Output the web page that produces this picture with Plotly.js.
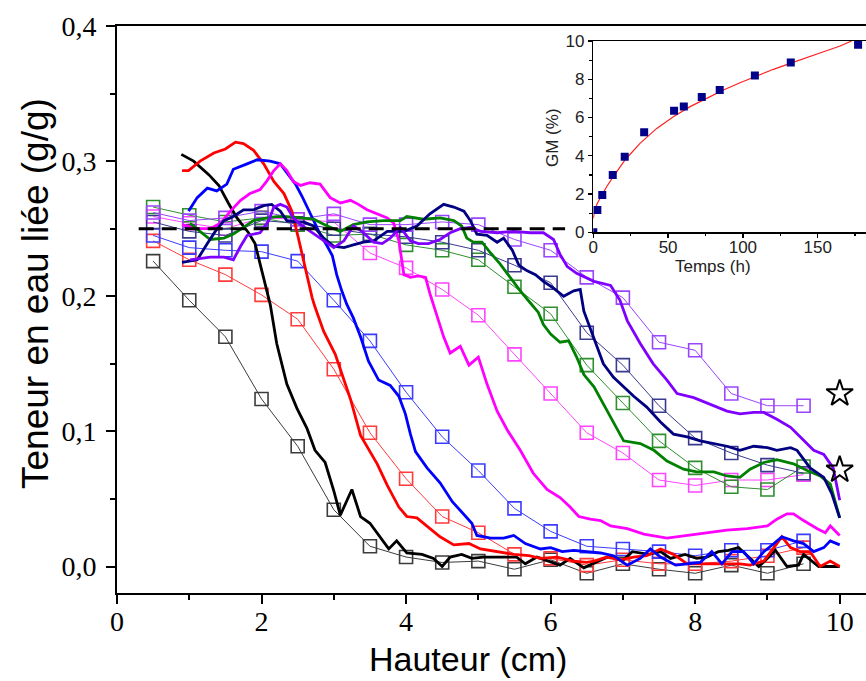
<!DOCTYPE html>
<html><head><meta charset="utf-8">
<script src="https://cdn.plot.ly/plotly-3.0.1.min.js"></script>
<style>html,body{margin:0;padding:0;background:#fff;} #chart{width:866px;height:681px;}</style>
</head><body><div id="chart"></div>
<script>
// ---- measured points (open squares), x = 0.5 ... 9.5 cm ----
const markerX = [0.5,1,1.5,2,2.5,3,3.5,4,4.5,5,5.5,6,6.5,7,7.5,8,8.5,9,9.5];
const mBlack   = [0.226,0.197,0.170,0.124,0.089,0.042,0.015,0.007,0.003,0.004,-0.002,0.005,-0.005,0.002,-0.002,-0.005,0.001,-0.005,0.002];
const mRed     = [0.241,0.227,0.216,0.201,0.183,0.146,0.099,0.065,0.037,0.025,0.009,0.006,0.001,0.005,0.002,0.002,0.004,0.008,0.014];
const mBlue    = [0.245,0.236,0.234,0.233,0.226,0.197,0.167,0.129,0.096,0.071,0.043,0.026,0.015,0.013,0.011,0.008,0.012,0.012,0.019];
const mMagenta = [0.259,0.254,0.250,0.258,0.257,0.255,0.232,0.221,0.205,0.186,0.157,0.128,0.099,0.084,0.064,0.060,0.064,0.064,0.068];
const mGreen   = [0.266,0.260,0.255,0.258,0.253,0.245,0.246,0.238,0.234,0.227,0.207,0.187,0.149,0.121,0.093,0.073,0.059,0.057,0.074];
const mNavy    = [0.255,0.248,0.245,0.256,0.254,0.250,0.246,0.244,0.240,0.234,0.223,0.210,0.173,0.149,0.119,0.095,0.084,0.075,0.069];
const mViolet  = [0.262,0.256,0.258,0.263,0.257,0.261,0.253,0.253,0.255,0.253,0.242,0.234,0.214,0.199,0.166,0.160,0.128,0.119,0.119];

// ---- continuous profiles (solid lines) ----
const blackX = [0.89,1.06,1.27,1.41,1.54,1.66,1.82,1.91,1.98,2.05,2.12,2.21,2.35,2.49,2.63,2.74,2.88,3.0,3.09,3.25,3.37,3.5,3.64,3.76,3.87,4.01,4.22,4.38,4.5,4.61,4.77,4.91,5.07,5.3,5.53,5.65,5.81,5.97,6.13,6.27,6.46,6.66,6.83,6.99,7.13,7.36,7.52,7.66,7.86,8.02,8.16,8.32,8.46,8.6,8.74,8.88,9.02,9.11,9.27,9.43,9.5,9.62,9.71,10.0];
const blackY = [0.305,0.300,0.290,0.282,0.269,0.258,0.247,0.239,0.224,0.209,0.194,0.165,0.135,0.117,0.102,0.086,0.077,0.056,0.038,0.057,0.037,0.032,0.022,0.013,0.019,0.010,0.009,0.006,0.000,0.007,0.009,0.006,0.007,0.007,0.007,0.002,0.007,0.004,0.001,0.006,-0.001,0.004,0.008,0.004,0.011,0.009,0.011,0.006,0.009,0.006,0.007,0.011,0.012,0.014,0.007,0.000,0.007,0.012,0.000,0.001,0.009,0.004,0.000,0.000];
const redX = [0.9,0.99,1.15,1.34,1.5,1.64,1.75,1.89,2.03,2.17,2.31,2.42,2.51,2.56,2.63,2.7,2.74,2.86,3.02,3.14,3.23,3.37,3.5,3.6,3.74,3.9,4.01,4.15,4.31,4.47,4.66,4.87,5.03,5.26,5.49,5.7,5.86,6.09,6.32,6.5,6.6,6.78,6.96,7.15,7.33,7.52,7.7,7.89,8.07,8.26,8.44,8.62,8.76,8.95,9.09,9.2,9.32,9.45,9.59,9.73,9.87,10.0];
const redY = [0.293,0.293,0.300,0.306,0.309,0.314,0.313,0.308,0.298,0.285,0.276,0.263,0.243,0.231,0.214,0.199,0.192,0.174,0.157,0.138,0.124,0.097,0.085,0.076,0.060,0.044,0.037,0.036,0.029,0.022,0.016,0.017,0.013,0.011,0.009,0.008,0.006,0.007,0.004,0.003,0.004,0.007,0.005,0.007,0.008,0.013,0.009,0.002,0.002,0.002,0.002,0.002,0.001,0.004,0.014,0.022,0.014,0.011,0.011,0.000,0.004,0.000];
const blueX = [0.99,1.11,1.25,1.38,1.52,1.61,1.8,1.94,2.12,2.26,2.37,2.47,2.56,2.65,2.72,2.81,2.91,2.98,3.04,3.11,3.18,3.27,3.37,3.48,3.62,3.78,3.9,3.99,4.06,4.13,4.29,4.47,4.64,4.77,4.91,4.98,5.17,5.35,5.49,5.65,5.86,6.0,6.16,6.32,6.5,6.69,6.87,7.06,7.24,7.38,7.52,7.73,7.89,8.07,8.23,8.37,8.51,8.67,8.81,8.95,9.09,9.2,9.36,9.5,9.64,9.78,9.87,10.0];
const blueY = [0.263,0.273,0.280,0.278,0.283,0.294,0.298,0.301,0.300,0.298,0.290,0.283,0.274,0.264,0.256,0.246,0.237,0.230,0.216,0.204,0.194,0.184,0.170,0.152,0.138,0.134,0.126,0.113,0.098,0.085,0.073,0.062,0.048,0.040,0.032,0.023,0.021,0.021,0.023,0.017,0.013,0.014,0.011,0.012,0.011,0.010,0.008,0.001,0.006,0.013,0.007,0.001,0.002,0.003,0.011,0.002,0.011,0.011,0.002,0.011,0.017,0.022,0.019,0.017,0.011,0.014,0.019,0.016];
const magentaX = [0.9,1.11,1.29,1.43,1.57,1.71,1.84,1.98,2.07,2.17,2.26,2.35,2.44,2.54,2.67,2.81,2.95,3.09,3.23,3.34,3.46,3.6,3.74,3.83,3.9,3.97,4.06,4.17,4.27,4.33,4.45,4.52,4.61,4.75,4.87,5.0,5.12,5.26,5.4,5.58,5.76,5.95,6.13,6.27,6.39,6.55,6.69,6.83,7.06,7.29,7.61,7.89,8.16,8.44,8.72,9.0,9.13,9.27,9.36,9.5,9.69,9.8,9.87,10.0];
const magentaY = [0.253,0.250,0.250,0.254,0.263,0.271,0.276,0.279,0.285,0.293,0.298,0.293,0.285,0.282,0.284,0.283,0.273,0.269,0.271,0.268,0.264,0.261,0.258,0.254,0.241,0.216,0.214,0.215,0.214,0.202,0.182,0.170,0.158,0.163,0.149,0.155,0.135,0.115,0.101,0.086,0.069,0.057,0.051,0.044,0.037,0.035,0.034,0.030,0.028,0.024,0.021,0.023,0.025,0.027,0.028,0.030,0.035,0.039,0.039,0.034,0.028,0.025,0.030,0.023];
const greenX = [1.01,1.15,1.29,1.48,1.61,1.75,1.89,2.08,2.21,2.35,2.54,2.72,2.91,3.09,3.27,3.46,3.69,3.92,4.01,4.24,4.47,4.66,4.77,4.84,4.93,5.05,5.17,5.3,5.44,5.58,5.72,5.83,5.9,6.0,6.13,6.25,6.36,6.46,6.6,6.73,6.87,7.01,7.24,7.43,7.61,7.84,8.02,8.26,8.44,8.62,8.76,8.95,9.13,9.36,9.55,9.73,9.87,10.0];
const greenY = [0.254,0.248,0.242,0.243,0.246,0.251,0.256,0.258,0.259,0.259,0.258,0.257,0.252,0.248,0.253,0.255,0.256,0.256,0.259,0.257,0.258,0.256,0.252,0.243,0.240,0.240,0.232,0.224,0.214,0.204,0.195,0.188,0.179,0.172,0.166,0.167,0.155,0.142,0.133,0.120,0.106,0.093,0.091,0.086,0.078,0.072,0.070,0.070,0.067,0.066,0.072,0.077,0.079,0.076,0.071,0.067,0.061,0.036];
const navyX = [0.9,1.11,1.25,1.36,1.48,1.61,1.75,1.89,2.03,2.14,2.26,2.35,2.47,2.58,2.72,2.86,3.0,3.14,3.27,3.41,3.55,3.74,3.97,4.15,4.33,4.52,4.66,4.8,4.89,4.98,5.12,5.26,5.35,5.47,5.56,5.67,5.79,5.9,6.04,6.18,6.32,6.41,6.46,6.55,6.64,6.73,6.87,7.01,7.15,7.33,7.52,7.7,7.89,8.07,8.26,8.44,8.62,8.81,9.0,9.13,9.32,9.41,9.59,9.78,9.89,10.0];
const navyY = [0.225,0.227,0.239,0.248,0.256,0.259,0.264,0.264,0.267,0.268,0.263,0.256,0.255,0.255,0.252,0.243,0.237,0.236,0.238,0.240,0.241,0.248,0.248,0.252,0.261,0.268,0.266,0.263,0.256,0.246,0.245,0.240,0.243,0.234,0.223,0.219,0.216,0.211,0.206,0.200,0.204,0.205,0.189,0.176,0.163,0.150,0.140,0.133,0.126,0.118,0.107,0.098,0.096,0.093,0.091,0.089,0.086,0.089,0.088,0.086,0.088,0.086,0.073,0.066,0.054,0.036];
const violetX = [1.01,1.29,1.48,1.61,1.71,1.8,1.98,2.1,2.17,2.26,2.35,2.44,2.54,2.67,2.81,3.0,3.14,3.27,3.39,3.55,3.67,3.78,3.92,4.06,4.17,4.31,4.47,4.61,4.75,4.89,5.03,5.26,5.49,5.72,5.9,6.04,6.13,6.23,6.36,6.6,6.83,6.96,7.06,7.24,7.42,7.61,7.75,7.98,8.21,8.44,8.62,8.81,8.95,9.13,9.32,9.5,9.64,9.78,9.91,10.0];
const violetY = [0.227,0.229,0.229,0.227,0.237,0.245,0.247,0.256,0.266,0.268,0.266,0.258,0.253,0.248,0.243,0.236,0.241,0.252,0.248,0.240,0.239,0.243,0.251,0.241,0.239,0.239,0.242,0.247,0.250,0.251,0.248,0.247,0.248,0.247,0.247,0.242,0.231,0.222,0.217,0.211,0.208,0.197,0.182,0.165,0.150,0.138,0.128,0.125,0.120,0.115,0.113,0.114,0.114,0.109,0.103,0.093,0.086,0.083,0.073,0.049];

// reference level (dashed) and star markers
const refX = [0.3, 6.2];
const refY = [0.25, 0.25];
const starX = [10, 10];
const starY = [0.128, 0.0715];

// ---- inset: GM (%) vs Temps (h) ----
const timeH = [0, 2.7, 6, 13, 21, 34, 54, 60.5, 72.5, 84.5, 108, 132, 177];
const gmPct = [0, 1.17, 1.95, 3.0, 3.95, 5.23, 6.36, 6.57, 7.07, 7.44, 8.2, 8.87, 9.8];
const fitT  = [0, 1, 2.7, 5.6, 8.9, 13.4, 21.2, 31.2, 42.4, 53.5, 64.7, 75.8, 87, 98.1, 109.3, 120.4, 131.6, 142.7, 153.9, 165, 172.7];
const fitGM = [0.73, 1.17, 1.52, 1.95, 2.38, 2.91, 3.78, 4.65, 5.43, 6.04, 6.57, 7.0, 7.44, 7.82, 8.19, 8.52, 8.83, 9.15, 9.44, 9.74, 10.0];

const xTicks = [0, 2, 4, 6, 8, 10];
const yTicks = [0, 0.1, 0.2, 0.3, 0.4];
const yTickText = ['0,0', '0,1', '0,2', '0,3', '0,4'];
const insetXTicks = [0, 50, 100, 150];
const insetYTicks = [0, 2, 4, 6, 8, 10];

const series = [
  {lx: blackX,   ly: blackY,   m: mBlack,   c: '#000000', mc: '#3c3c3c'},
  {lx: redX,     ly: redY,     m: mRed,     c: '#ff0000', mc: '#ff3b3b'},
  {lx: blueX,    ly: blueY,    m: mBlue,    c: '#0000ff', mc: '#3b3bff'},
  {lx: magentaX, ly: magentaY, m: mMagenta, c: '#ff00ff', mc: '#ff44ff'},
  {lx: greenX,   ly: greenY,   m: mGreen,   c: '#008000', mc: '#2f8f2f'},
  {lx: navyX,    ly: navyY,    m: mNavy,    c: '#000080', mc: '#3a3a8f'},
  {lx: violetX,  ly: violetY,  m: mViolet,  c: '#8000ff', mc: '#9a44ff'}
];

const traces = [];
series.forEach(s => {
  traces.push({x: markerX, y: s.m, type: 'scatter', mode: 'lines+markers', showlegend: false,
    line: {color: s.mc, width: 1},
    marker: {symbol: 'square-open', size: 13, color: s.mc, line: {width: 1.6, color: s.mc}}});
});
series.forEach(s => {
  traces.push({x: s.lx, y: s.ly, type: 'scatter', mode: 'lines', showlegend: false,
    line: {color: s.c, width: 2.8}});
});
traces.push({x: refX, y: refY, type: 'scatter', mode: 'lines', showlegend: false,
  line: {color: '#000', width: 3, dash: '15px,8px'}});
traces.push({x: starX, y: starY, type: 'scatter', mode: 'markers', showlegend: false,
  marker: {symbol: 'star-open', size: 20, color: '#000', line: {width: 2, color: '#000'}}});
traces.push({x: fitT, y: fitGM, xaxis: 'x2', yaxis: 'y2', type: 'scatter', mode: 'lines', showlegend: false,
  line: {color: '#ff2020', width: 1.2}});
traces.push({x: timeH, y: gmPct, xaxis: 'x2', yaxis: 'y2', type: 'scatter', mode: 'markers', showlegend: false,
  marker: {symbol: 'square', size: 8, color: '#000088'}});

const W = 866, H = 681, L = 117, R = 0, T = 26, B = 88;
const pw = W - L - R, ph = H - T - B;
const px = v => (v - L) / pw;
const py = v => (H - B - v) / ph;

const layout = {
  width: W, height: H,
  margin: {l: L, r: R, t: T, b: B},
  paper_bgcolor: '#fff', plot_bgcolor: 'rgba(0,0,0,0)',
  showlegend: false,
  xaxis: {
    range: [0, pw / 72.27], domain: [0, 1],
    tickvals: xTicks, ticktext: xTicks.map(String),
    ticks: 'outside', ticklen: 9, tickwidth: 2, tickcolor: '#000', ticklabelstandoff: -7,
    minor: {dtick: 1, tick0: 0, ticks: 'outside', ticklen: 5, tickwidth: 2, tickcolor: '#000', showgrid: false},
    showline: true, linewidth: 2, linecolor: '#000', mirror: true,
    showgrid: false, zeroline: false,
    tickfont: {family: 'Liberation Serif, Times New Roman, serif', size: 28, color: '#000'}
  },
  yaxis: {
    range: [-0.0196, 0.4], domain: [0, 1],
    tickvals: yTicks, ticktext: yTickText,
    ticks: 'outside', ticklen: 9, tickwidth: 2, tickcolor: '#000', ticklabelstandoff: 4,
    minor: {dtick: 0.05, tick0: 0, ticks: 'outside', ticklen: 5, tickwidth: 2, tickcolor: '#000', showgrid: false},
    showline: true, linewidth: 2, linecolor: '#000',
    showgrid: false, zeroline: false,
    tickfont: {family: 'Liberation Serif, Times New Roman, serif', size: 28, color: '#000'}
  },
  xaxis2: {
    anchor: 'y2', domain: [px(593.3), 1], range: [0, (W - 593.3) / 1.496],
    tickvals: insetXTicks,
    ticks: 'outside', ticklen: 4, tickwidth: 1.2, tickcolor: '#000', ticklabelstandoff: -5,
    minor: {dtick: 25, tick0: 0, ticks: 'outside', ticklen: 2.5, tickwidth: 1.2, tickcolor: '#000', showgrid: false},
    showline: true, linewidth: 1.4, linecolor: '#000', mirror: true,
    showgrid: false, zeroline: false,
    tickfont: {family: 'Liberation Sans, Arial, sans-serif', size: 17, color: '#222'}
  },
  yaxis2: {
    anchor: 'x2', domain: [py(232.3), py(41)], range: [0, 10],
    tickvals: insetYTicks,
    ticks: 'outside', ticklen: 4, tickwidth: 1.2, tickcolor: '#000',
    minor: {dtick: 1, tick0: 0, ticks: 'outside', ticklen: 2.5, tickwidth: 1.2, tickcolor: '#000', showgrid: false},
    showline: true, linewidth: 1.4, linecolor: '#000',
    showgrid: false, zeroline: false,
    tickfont: {family: 'Liberation Sans, Arial, sans-serif', size: 17, color: '#222'}
  },
  annotations: [
    {text: 'Hauteur (cm)', xref: 'paper', yref: 'paper', x: px(468), y: py(659), xanchor: 'center', yanchor: 'middle',
     showarrow: false, font: {family: 'Liberation Sans, Arial, sans-serif', size: 34, color: '#000'}},
    {text: 'Teneur en eau liée (g/g)', xref: 'paper', yref: 'paper', x: px(35), y: py(294), xanchor: 'center', yanchor: 'middle',
     textangle: -90, showarrow: false, font: {family: 'Liberation Sans, Arial, sans-serif', size: 37, color: '#000'}},
    {text: 'Temps (h)', xref: 'paper', yref: 'paper', x: px(713), y: py(266), xanchor: 'center', yanchor: 'middle',
     showarrow: false, font: {family: 'Liberation Sans, Arial, sans-serif', size: 17, color: '#222'}},
    {text: 'GM (%)', xref: 'paper', yref: 'paper', x: px(552), y: py(138), xanchor: 'center', yanchor: 'middle',
     textangle: -90, showarrow: false, font: {family: 'Liberation Sans, Arial, sans-serif', size: 17, color: '#222'}}
  ]
};

Plotly.newPlot('chart', traces, layout, {displayModeBar: false, staticPlot: true});
</script></body></html>
